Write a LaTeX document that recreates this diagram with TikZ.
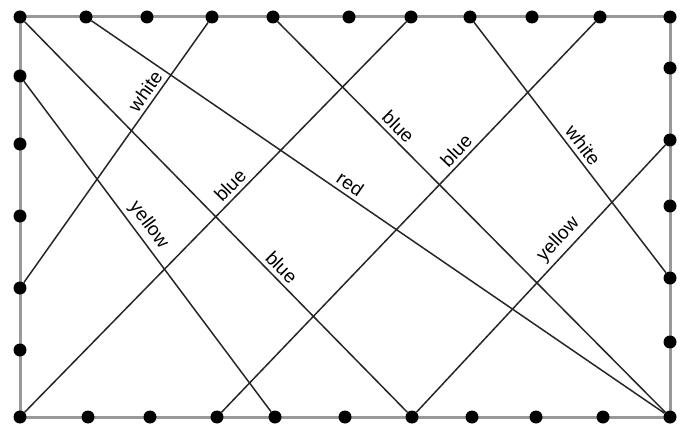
\documentclass[tikz,border=0pt]{standalone}
\usepackage{fontspec}
\setmainfont{Liberation Sans}

\begin{document}
\begin{tikzpicture}[x=1pt, y=-1pt,
    dot/.style={circle, fill=black, inner sep=0pt, minimum size=13pt},
    frame/.style={draw=black!40, line width=3pt},
    wire/.style={draw=black!85, line width=1.5pt},
    tag/.style={font=\fontsize{19}{22}\selectfont, sloped, above, inner sep=4pt},
]
    \useasboundingbox (0,0) rectangle (689,428);
    \draw[frame] (20,17) rectangle (670,417);

    % dots along top and bottom
    \foreach \x [count=\i from 0] in {20,86,147,212,273,349,411,470,532,600,670}
        \node[dot] (t\i) at (\x,17) {};
    \foreach \x [count=\i from 0] in {20,88,150,217,275,345,412,472,536,603,670}
        \node[dot] (b\i) at (\x,417) {};
    % dots along the sides
    \foreach \y [count=\i] in {76,144,216,288,350}
        \node[dot] (l\i) at (20,\y) {};
    \foreach \y [count=\i] in {68,140,206,278,342}
        \node[dot] (r\i) at (670,\y) {};

    % wires
    \draw[wire] (t0) -- node[tag, pos=.65] {blue} (b6);
    \draw[wire] (l1) -- node[tag, pos=.46] {yellow} (b4);
    \draw[wire] (l4) -- node[tag, pos=.71] {white} (t3);
    \draw[wire] (t1) -- node[tag, pos=.44] {red} (b10);
    \draw[wire] (t4) -- node[tag, pos=.29] {blue} (b10);
    \draw[wire] (b0) -- node[tag, pos=.56] {blue} (t6);
    \draw[wire] (t7) -- node[tag, pos=.52] {white} (r4);
    \draw[wire] (b3) -- node[tag, pos=.65] {blue} (t9);
    \draw[wire] (b6) -- node[tag, pos=.61] {yellow} (r2);

\end{tikzpicture}
\end{document}
